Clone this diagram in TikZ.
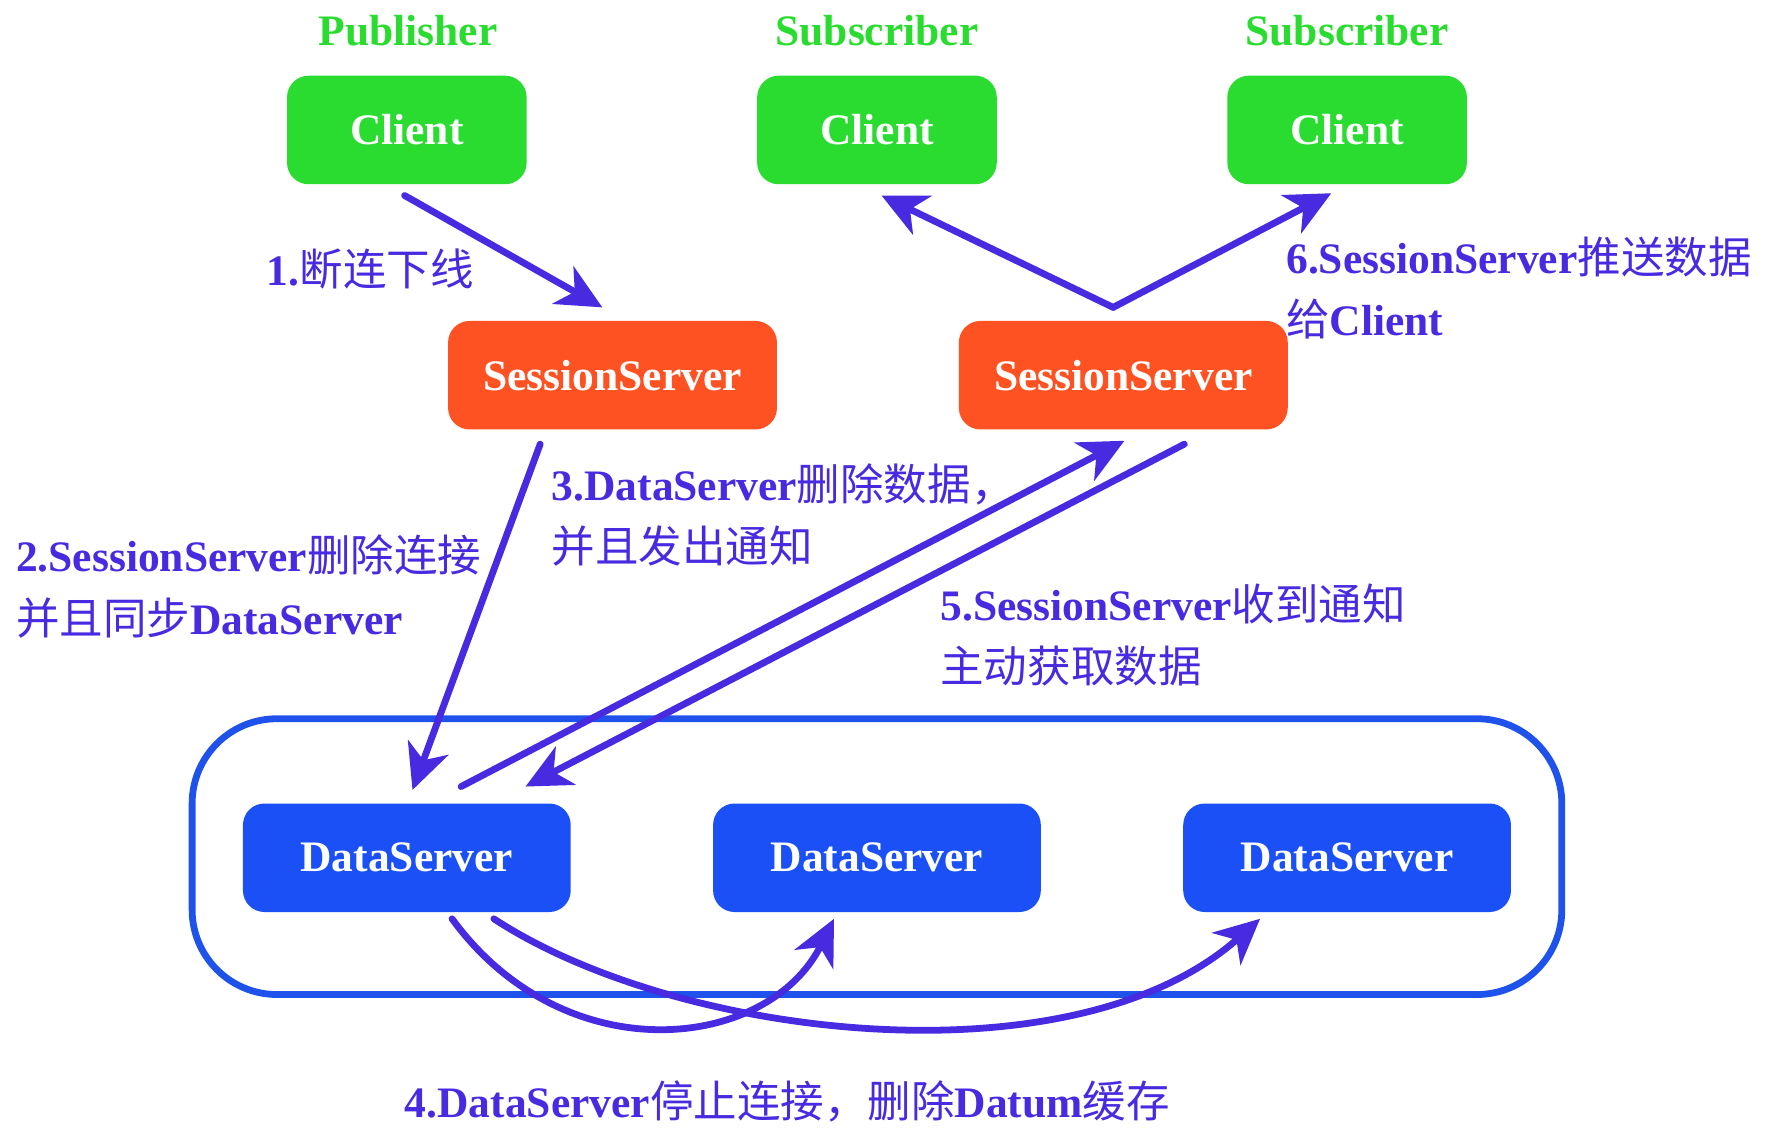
\documentclass[tikz,border=0pt]{standalone}
\usepackage{fontspec}
\setmainfont{Liberation Serif}
\newfontfamily\cjk{Noto Sans CJK SC}
\usetikzlibrary{arrows.meta,calc}
\definecolor{cgreen}{RGB}{42,220,48}
\definecolor{cred}{RGB}{255,82,34}
\definecolor{cblue}{RGB}{26,80,245}
\definecolor{cpurple}{RGB}{72,42,224}
\definecolor{cframe}{RGB}{30,82,235}
\newcommand{\zh}[1]{{\cjk\mdseries #1}}
\begin{document}
\begin{tikzpicture}[x=1pt,y=-1pt,
  bigfont/.style={font=\fontsize{38.5pt}{55pt}\selectfont\bfseries},
  box/.style={bigfont, rounded corners=18pt, minimum height=94pt, line width=2pt, text=white, inner sep=0pt},
  clientbox/.style={box, fill=cgreen, draw=cgreen, minimum width=210pt},
  sessbox/.style={box, fill=cred, draw=cred, minimum width=289pt},
  databox/.style={box, fill=cblue, draw=cblue, minimum width=288pt},
  role/.style={bigfont, text=cgreen, inner sep=0pt},
  lbl/.style={bigfont, text=cpurple, anchor=west, align=left, inner sep=0pt},
  arr/.style={draw=cpurple, line width=6pt, line cap=round, -{Stealth[length=40pt,width=38pt,inset=12pt]}},
  group/.style={draw=cframe, line width=6pt, rounded corners=75pt, inner sep=0pt}
]
\useasboundingbox (0,0) rectangle (1568,1009);

% group frame
\node[group, minimum width=1212pt, minimum height=244pt] (grp) at (776,758) {};

% roles
\node[role] (r1) at (361,27) {Publisher};
\node[role] (r2) at (776,27) {Subscriber};
\node[role] (r3) at (1192,27) {Subscriber};

% clients
\node[clientbox] (c1) at (360,115) {Client};
\node[clientbox] (c2) at (776,115) {Client};
\node[clientbox] (c3) at (1192,115) {Client};

% session servers
\node[sessbox] (ss1) at (542,332) {SessionServer};
\node[sessbox] (ss2) at (994,332) {SessionServer};

% data servers
\node[databox] (ds1) at (360,759) {DataServer};
\node[databox] (ds2) at (776,759) {DataServer};
\node[databox] (ds3) at (1192,759) {DataServer};

% arrows
\draw[arr] ([shift={(-2,10)}]c1.south) -- ([shift={(-9,-12)}]ss1.north);
\draw[arr] ([shift={(-64,13)}]ss1.south) -- ([shift={(5,-12)}]ds1.north);
\draw[arr] ([shift={(48,-15)}]ds1.north) -- ([shift={(1,10)}]ss2.south);
\draw[arr] ([shift={(54,13)}]ss2.south) -- ([shift={(105,-15)}]ds1.north);
\coordinate (pk) at ([shift={(-9,-12)}]ss2.north);
\draw[arr] (pk) -- ([shift={(4,10)}]c2.south);
\draw[arr] (pk) -- ([shift={(-14,8)}]c3.south);
\draw[arr] ([shift={(40,6)}]ds1.south) .. controls (500,950) and (680,930) .. ([shift={(-38,6)}]ds2.south);
\draw[arr] ([shift={(77,6)}]ds1.south) .. controls (600,920) and (950,960) .. ([shift={(-77,6)}]ds3.south);

% labels
\node[lbl] (l1) at (236,238) {1.\zh{断连下线}};
\node[lbl] (l2) at (14,519) {2.SessionServer\zh{删除连接}\\\zh{并且同步}DataServer};
\node[lbl] (l3) at (488,456) {3.DataServer\zh{删除数据，}\\\zh{并且发出通知}};
\node[lbl] (l5) at (832,562) {5.SessionServer\zh{收到通知}\\\zh{主动获取数据}};
\node[lbl] (l6) at (1138,255) {6.SessionServer\zh{推送数据}\\\zh{给}Client};
\node[lbl] (l4) at (358,975) {4.DataServer\zh{停止连接，删除}Datum\zh{缓存}};
\end{tikzpicture}
\end{document}
